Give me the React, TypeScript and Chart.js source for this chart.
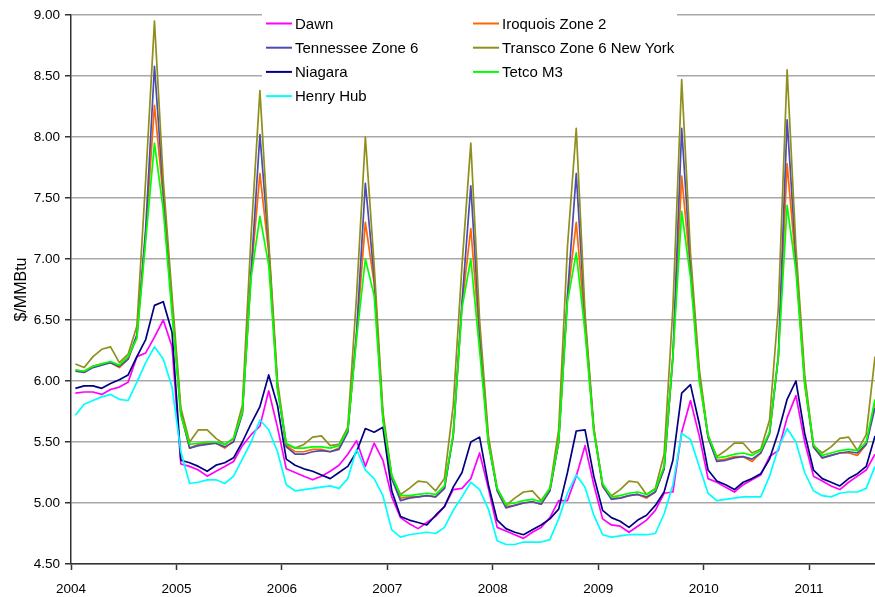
import React, { useEffect, useRef } from 'react';
import { Chart, registerables } from 'chart.js';

Chart.register(...registerables);

const FONT = '"Liberation Sans", Arial, sans-serif';
const FIRST_YEAR = 2004;
const LAST_X = 2011.625;
const yearTicks = [2004, 2005, 2006, 2007, 2008, 2009, 2010, 2011];
const priceTicks = [4.5, 5, 5.5, 6, 6.5, 7, 7.5, 8, 8.5, 9];

// Monthly prices, Jan 2004 … Aug 2011 ($/MMBtu)
const dawn = [
  5.9, 5.91, 5.91, 5.89, 5.93, 5.95, 5.99, 6.2, 6.23, 6.36, 6.5, 6.28,
  5.32, 5.3, 5.27, 5.22, 5.26, 5.3, 5.34, 5.47, 5.56, 5.63, 5.92, 5.62,
  5.28, 5.25, 5.22, 5.19, 5.22, 5.26, 5.31, 5.4, 5.51, 5.3, 5.49, 5.35,
  5.05, 4.88, 4.83, 4.79, 4.84, 4.89, 4.97, 5.11, 5.12, 5.2, 5.41, 5.12,
  4.8, 4.77, 4.74, 4.71, 4.76, 4.8, 4.88, 5.02, 5.02, 5.22, 5.47, 5.15,
  4.87, 4.82, 4.81, 4.76, 4.81, 4.86, 4.94, 5.08, 5.09, 5.58, 5.84, 5.55,
  5.2, 5.17, 5.13, 5.09, 5.15, 5.19, 5.23, 5.38, 5.43, 5.7, 5.88, 5.5,
  5.22, 5.18, 5.14, 5.11, 5.17, 5.22, 5.27, 5.4,
];
const iroquoisZone2 = [
  6.09, 6.08, 6.12, 6.14, 6.15, 6.11, 6.18, 6.36, 7.2, 8.26, 7.5, 6.6,
  5.73, 5.45, 5.48, 5.49, 5.49, 5.45, 5.51, 5.74, 6.88, 7.7, 7.05, 5.95,
  5.47, 5.42, 5.42, 5.44, 5.44, 5.42, 5.45, 5.59, 6.38, 7.3, 6.8, 5.7,
  5.21, 5.04, 5.05, 5.05, 5.06, 5.05, 5.12, 5.56, 6.62, 7.25, 6.35, 5.5,
  5.11, 4.97, 4.98, 5.0, 5.01, 4.99, 5.1, 5.5, 6.68, 7.3, 6.45, 5.6,
  5.14, 5.04, 5.04, 5.06, 5.07, 5.04, 5.09, 5.28, 6.2, 7.68, 6.9, 6.03,
  5.54, 5.35, 5.36, 5.38, 5.38, 5.34, 5.41, 5.57, 6.2, 7.78, 6.95, 5.98,
  5.46, 5.37, 5.39, 5.41, 5.41, 5.39, 5.48, 5.83,
];
const tennesseeZone6 = [
  6.08, 6.07, 6.11, 6.13, 6.15, 6.12, 6.18, 6.38, 7.25, 8.58, 7.55, 6.62,
  5.74, 5.45, 5.47, 5.48, 5.49, 5.46, 5.5, 5.73, 6.9, 8.02, 7.1, 5.95,
  5.46, 5.4, 5.4, 5.42, 5.43, 5.42, 5.44, 5.58, 6.4, 7.62, 6.85, 5.7,
  5.2, 5.02, 5.04, 5.05, 5.06, 5.05, 5.12, 5.55, 6.65, 7.6, 6.4, 5.5,
  5.1, 4.96, 4.98, 5.0, 5.01, 4.99, 5.1, 5.5, 6.7, 7.7, 6.5, 5.6,
  5.14, 5.03, 5.04, 5.06, 5.07, 5.05, 5.09, 5.28, 6.2, 8.07, 6.95, 6.05,
  5.54, 5.34, 5.35, 5.37, 5.38, 5.36, 5.41, 5.57, 6.2, 8.14, 7.0, 6.0,
  5.46, 5.37, 5.39, 5.41, 5.42, 5.41, 5.48, 5.78,
];
const transcoZone6NY = [
  6.14, 6.11, 6.2, 6.26, 6.28, 6.15, 6.22, 6.45, 7.65, 8.95, 7.65, 6.7,
  5.78, 5.5, 5.6, 5.6, 5.53, 5.48, 5.53, 5.8, 7.2, 8.38, 7.15, 6.0,
  5.48, 5.45, 5.48, 5.54, 5.55, 5.47, 5.48, 5.62, 6.7, 8.0, 6.95, 5.75,
  5.22, 5.07, 5.12, 5.18, 5.17, 5.1, 5.2, 5.8, 6.95, 7.95, 6.5, 5.55,
  5.12, 4.98, 5.04, 5.09, 5.1, 5.02, 5.12, 5.6, 7.1, 8.07, 6.55, 5.62,
  5.15, 5.06, 5.11, 5.18, 5.17, 5.07, 5.12, 5.4, 6.6, 8.47, 7.05, 6.1,
  5.55, 5.38, 5.43, 5.49, 5.49, 5.41, 5.44, 5.68, 6.6, 8.55, 7.1, 6.05,
  5.47, 5.41, 5.46, 5.53, 5.54, 5.43, 5.56, 6.2,
];
const niagara = [
  5.94, 5.96, 5.96, 5.94, 5.98, 6.01, 6.05, 6.2, 6.34, 6.62, 6.65, 6.4,
  5.35, 5.33, 5.3, 5.26, 5.31, 5.33, 5.37, 5.5, 5.65, 5.79, 6.05, 5.8,
  5.36, 5.31, 5.28, 5.26, 5.23, 5.2, 5.25, 5.3, 5.42, 5.61, 5.58, 5.62,
  5.1, 4.89, 4.86, 4.84, 4.82, 4.9, 4.97, 5.13, 5.25, 5.5, 5.54, 5.15,
  4.86, 4.79, 4.76, 4.74, 4.78, 4.82, 4.87, 4.95, 5.25, 5.59, 5.6, 5.22,
  4.94, 4.88, 4.85, 4.8, 4.86, 4.9, 4.98, 5.09, 5.35, 5.9, 5.97, 5.65,
  5.27, 5.18, 5.15, 5.11, 5.17, 5.2, 5.24, 5.36, 5.58, 5.85, 6.0, 5.57,
  5.27, 5.2, 5.17, 5.14, 5.2, 5.24, 5.3, 5.55,
];
const tetcoM3 = [
  6.09, 6.08, 6.12, 6.14, 6.16, 6.13, 6.2, 6.35, 7.15, 7.95, 7.4, 6.55,
  5.72, 5.48, 5.49, 5.5, 5.5, 5.48, 5.53, 5.74, 6.85, 7.35, 6.95, 5.93,
  5.49, 5.45, 5.45, 5.46, 5.46, 5.45, 5.47, 5.6, 6.35, 7.0, 6.7, 5.68,
  5.23, 5.06, 5.06, 5.07, 5.08, 5.07, 5.14, 5.56, 6.6, 7.0, 6.25, 5.48,
  5.12, 4.99, 5.0, 5.02, 5.03, 5.01, 5.12, 5.5, 6.65, 7.05, 6.4, 5.58,
  5.16, 5.05, 5.06, 5.08, 5.09, 5.07, 5.11, 5.3, 6.2, 7.39, 6.85, 6.0,
  5.56, 5.37, 5.38, 5.4, 5.41, 5.39, 5.43, 5.58, 6.2, 7.44, 6.9, 5.97,
  5.48, 5.39, 5.41, 5.43, 5.44, 5.43, 5.5, 5.85,
];
const henryHub = [
  5.72, 5.81, 5.84, 5.87, 5.89, 5.85, 5.84, 5.99, 6.15, 6.28, 6.18, 5.95,
  5.42, 5.16, 5.17, 5.19, 5.19, 5.16, 5.22, 5.36, 5.5, 5.68, 5.6, 5.42,
  5.15, 5.1, 5.11, 5.12, 5.13, 5.14, 5.12, 5.2, 5.44, 5.27, 5.2, 5.06,
  4.78, 4.72, 4.74, 4.75, 4.76, 4.75, 4.8, 4.94, 5.05, 5.17, 5.11, 4.95,
  4.69, 4.66, 4.66, 4.68, 4.68, 4.68, 4.7, 4.87, 5.08, 5.23, 5.13, 4.9,
  4.74, 4.72, 4.73, 4.74, 4.74, 4.74, 4.75, 4.91, 5.15, 5.57, 5.52, 5.3,
  5.08, 5.02, 5.03, 5.04, 5.05, 5.05, 5.05, 5.22, 5.45, 5.61, 5.5, 5.25,
  5.1, 5.06, 5.05, 5.08, 5.09, 5.09, 5.12, 5.3,
];

// mid-month positions in decimal years
const monthPositions = dawn.map((_, i) => FIRST_YEAR + (i + 0.5) / 12);

const seriesLabels = ['Dawn', 'Iroquois Zone 2', 'Tennessee Zone 6', 'Transco Zone 6 New York', 'Niagara', 'Tetco M3', 'Henry Hub'];
const seriesValues = [dawn, iroquoisZone2, tennesseeZone6, transcoZone6NY, niagara, tetcoM3, henryHub];
const seriesColors = ['#FF00FF', '#FF6600', '#4C4CB0', '#8F8F1C', '#000080', '#00FF00', '#00FFFF'];

const boxLegend = {
  id: 'boxLegend',
  afterDraw(chart: any) {
    const { ctx } = chart;
    ctx.save();
    ctx.fillStyle = '#ffffff';
    ctx.fillRect(262, 0, 415, 107);
    ctx.font = `15px ${FONT}`;
    ctx.textBaseline = 'middle';
    ctx.textAlign = 'left';
    chart.data.datasets.forEach((ds: any, k: number) => {
      const col = k % 2;
      const row = Math.floor(k / 2);
      const x0 = col === 0 ? 266 : 473;
      const y = 23.5 + row * 24.2;
      ctx.strokeStyle = ds.borderColor;
      ctx.lineWidth = 2;
      ctx.beginPath();
      ctx.moveTo(x0, y);
      ctx.lineTo(x0 + 26, y);
      ctx.stroke();
      ctx.fillStyle = '#000000';
      ctx.fillText(ds.label, x0 + 29, y + 1);
    });
    ctx.restore();
  },
};

export default function App() {
  const ref = useRef<HTMLCanvasElement>(null);
  useEffect(() => {
    if (!ref.current) return;
    Chart.defaults.font.family = FONT;
    const chart = new Chart(ref.current, {
      type: 'line',
      data: {
        datasets: seriesLabels.map((label, k) => ({
          label,
          data: monthPositions.map((x, i) => ({ x, y: seriesValues[k][i] })),
          borderColor: seriesColors[k],
          backgroundColor: seriesColors[k],
          borderWidth: 1.7,
          pointRadius: 0,
          tension: 0,
          fill: false,
          borderJoinStyle: 'round',
          order: seriesLabels.length - 1 - k,
        })),
      },
      options: {
        responsive: false,
        animation: false,
        devicePixelRatio: 1,
        layout: { padding: { top: 15, right: 0, bottom: 0, left: 0 } },
        plugins: { legend: { display: false }, tooltip: { enabled: false } },
        scales: {
          x: {
            type: 'linear',
            min: FIRST_YEAR,
            max: LAST_X,
            afterBuildTicks: (s: any) => {
              s.ticks = yearTicks.map((v) => ({ value: v }));
            },
            afterFit: (s: any) => {
              s.height = 33;
            },
            grid: { drawOnChartArea: false, drawTicks: true, tickLength: 6, tickColor: '#333333', tickWidth: 1.5 },
            border: { display: true, color: '#333333', width: 1.5 },
            ticks: {
              color: '#000000',
              font: { family: FONT, size: 13.5 },
              padding: 11,
              maxRotation: 0,
              autoSkip: false,
              callback: (v: any) => String(v),
            },
          },
          y: {
            type: 'linear',
            min: 4.5,
            max: 9,
            afterBuildTicks: (s: any) => {
              s.ticks = priceTicks.map((v) => ({ value: v }));
            },
            afterFit: (s: any) => {
              s.width = 71;
            },
            grid: { color: '#a8a8a8', lineWidth: 1.5, tickLength: 6, tickColor: '#333333', tickWidth: 1.5 },
            border: { display: true, color: '#333333', width: 1.5 },
            ticks: {
              color: '#000000',
              font: { family: FONT, size: 13.5 },
              padding: 5,
              callback: (v: any) => Number(v).toFixed(2),
            },
            title: {
              display: true,
              text: '$/MMBtu',
              color: '#000000',
              font: { family: FONT, size: 16 },
              padding: { top: 12, bottom: 0 },
            },
          },
        },
      } as any,
      plugins: [boxLegend],
    });
    return () => chart.destroy();
  }, []);
  return (
    <div style={{ position: 'fixed', left: 0, top: 0, width: 875, height: 597, background: '#fff' }}>
      <canvas ref={ref} width={875} height={597} style={{ display: 'block' }} />
    </div>
  );
}
